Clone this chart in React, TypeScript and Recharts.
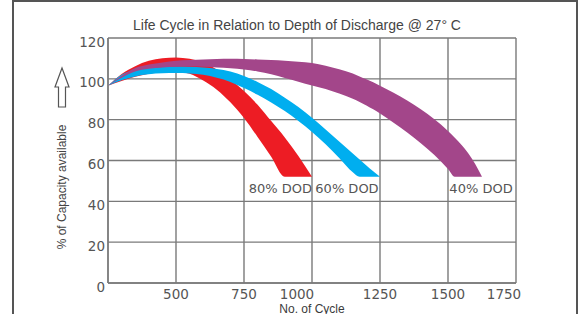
import React from 'react';
import { AreaChart, Area, XAxis, YAxis, CartesianGrid, ReferenceDot } from 'recharts';

// x positions (No. of Cycle) at which the bands were read
const cycles = [
  250, 300, 350, 400, 450, 500, 550, 600, 650, 700, 750, 800, 850, 900, 950, 1000,
  1050, 1100, 1150, 1175, 1200, 1225, 1250, 1300, 1350, 1400, 1450, 1500, 1525, 1550,
  1575, 1600, 1625,
];

// 80% DOD band (red): lower / upper edge, % of capacity
const dod80Low = [96.6, 99.0, 101.0, 102.5, 103.3, 103.5, 102.5, 99.2, 94.7, 88.5, 80.8, 71.5, 61.8, 52, 52, 52];
const dod80High = [96.6, 102.4, 106.2, 108.8, 110.1, 110.5, 109.8, 108.0, 104.6, 99.8, 94.0, 87.3, 79.3, 71.3, 62.2, 52];

// 60% DOD band (blue)
const dod60Low = [
  96.6, 99.3, 101.2, 102.2, 102.7, 102.8, 102.6, 102.0, 100.5, 98.5, 95.5, 92.2, 88.4, 84.2,
  79.3, 74.0, 67.9, 61.2, 54.2, 52, 52, 52, 52,
];
const dod60High = [
  96.6, 102.0, 104.3, 105.3, 105.8, 106.0, 105.9, 105.5, 104.8, 103.6, 101.4, 98.5, 95.0, 90.7,
  86.2, 80.9, 75.2, 69.3, 63.4, 60.5, 57.6, 54.7, 52,
];

// 40% DOD band (purple)
const dod40Low = [
  96.6, 100.5, 103.6, 105.0, 105.6, 105.9, 106.0, 105.9, 105.6, 105.2, 104.6, 103.6, 102.2, 100.4,
  98.6, 96.7, 95.0, 92.8, 90.2, 88.7, 87.0, 85.1, 83.0, 78.5, 73.7, 68.5, 62.7, 55.8, 52, 52, 52,
  52, 52,
];
const dod40High = [
  96.6, 101.5, 105.3, 107.0, 108.0, 108.8, 109.2, 109.5, 109.7, 109.8, 109.7, 109.5, 109.2, 108.9,
  108.4, 107.7, 106.4, 104.7, 102.6, 101.2, 99.8, 98.3, 96.6, 93.2, 89.4, 85.1, 80.2, 74.5, 71.2,
  67.6, 63.4, 58.3, 52,
];

const xTicks = [500, 750, 1000, 1250, 1500, 1750];
const yTicks = [0, 20, 40, 60, 80, 100, 120];

const dodLabels = [
  { text: '80% DOD', cycle: 1000, pos: 'left' },
  { text: '60% DOD', cycle: 1245, pos: 'left' },
  { text: '40% DOD', cycle: 1505, pos: 'right' },
];
const labelLevel = 46.5;

const band = (lo: number[], hi: number[], i: number) => (i < hi.length ? [lo[i], hi[i]] : null);

const data = cycles.map((c, i) => ({
  cycle: c,
  dod80: band(dod80Low, dod80High, i),
  dod60: band(dod60Low, dod60High, i),
  dod40: band(dod40Low, dod40High, i),
}));

const GRID = '#7a7a7a';
const TEXT = '#555555';
const FONT = 'DejaVu Sans';

// the printed x labels sit a little left of their grid lines for these two
const xLabelShift: Record<number, number> = { 1000: -15, 1750: -12 };

function XTick({ x, y, payload }: any) {
  return (
    <text x={x + (xLabelShift[payload.value] || 0)} y={y + 9.5} textAnchor="middle" fontSize={13.5} fontFamily={FONT} fill={TEXT}>
      {payload.value}
    </text>
  );
}

function YTick({ x, y, payload }: any) {
  return (
    <text x={x} y={y + 8.5} textAnchor="end" fontSize={13.5} fontFamily={FONT} fill={TEXT}>
      {payload.value}
    </text>
  );
}

export default function App() {
  return (
    <div style={{ position: 'absolute', left: 0, top: 0, width: 581, height: 314, overflow: 'hidden', background: '#fff' }}>
      <AreaChart width={581} height={314} data={data} margin={{ top: 38, right: 65, bottom: 0, left: 48 }}>
        <CartesianGrid stroke={GRID} strokeWidth={1.4} />
        <XAxis
          dataKey="cycle"
          type="number"
          domain={[250, 1750]}
          ticks={xTicks}
          height={31}
          tick={<XTick />}
          tickLine={false}
          tickSize={0}
          tickMargin={6}
          axisLine={{ stroke: GRID, strokeWidth: 1.4 }}
          label={{ value: 'No. of Cycle', position: 'insideBottom', offset: 1, fontSize: 12, fontFamily: 'Liberation Sans', fill: '#3a3a3a' }}
        />
        <YAxis
          type="number"
          domain={[0, 120]}
          ticks={yTicks}
          width={60}
          tick={<YTick />}
          tickLine={false}
          tickSize={0}
          tickMargin={3}
          axisLine={{ stroke: GRID, strokeWidth: 1.4 }}
        />
        <Area dataKey="dod80" type="monotone" stroke="none" fill="#ed1c24" fillOpacity={1} dot={false} activeDot={false} isAnimationActive={false} />
        <Area dataKey="dod60" type="monotone" stroke="none" fill="#00aeef" fillOpacity={1} dot={false} activeDot={false} isAnimationActive={false} />
        <Area dataKey="dod40" type="monotone" stroke="none" fill="#a3468a" fillOpacity={1} dot={false} activeDot={false} isAnimationActive={false} />
        {dodLabels.map((l) => (
          <ReferenceDot
            key={l.text}
            x={l.cycle}
            y={labelLevel}
            r={0}
            fill="none"
            stroke="none"
            label={{ value: l.text, position: l.pos, offset: 0, fontSize: 13, fontFamily: FONT, fill: TEXT }}
          />
        ))}
      </AreaChart>
      <svg width={581} height={314} style={{ position: 'absolute', left: 0, top: 0, pointerEvents: 'none' }}>
        <rect x={13} y={1} width={564} height={340} fill="none" stroke="#555" strokeWidth={2} />
        <text x={297} y={30} textAnchor="middle" fontSize={14} fontFamily="Liberation Sans" fill="#444">
          Life Cycle in Relation to Depth of Discharge @ 27° C
        </text>
        <path d="M62 68 L69 87 L65.5 87 L65.5 107 L58.5 107 L58.5 87 L55 87 Z" fill="none" stroke="#555" strokeWidth={1.2} />
        <text x={0} y={0} transform="translate(66 187) rotate(-90)" textAnchor="middle" fontSize={12} fontFamily="Liberation Sans" fill="#444">
          % of Capacity available
        </text>
      </svg>
    </div>
  );
}
